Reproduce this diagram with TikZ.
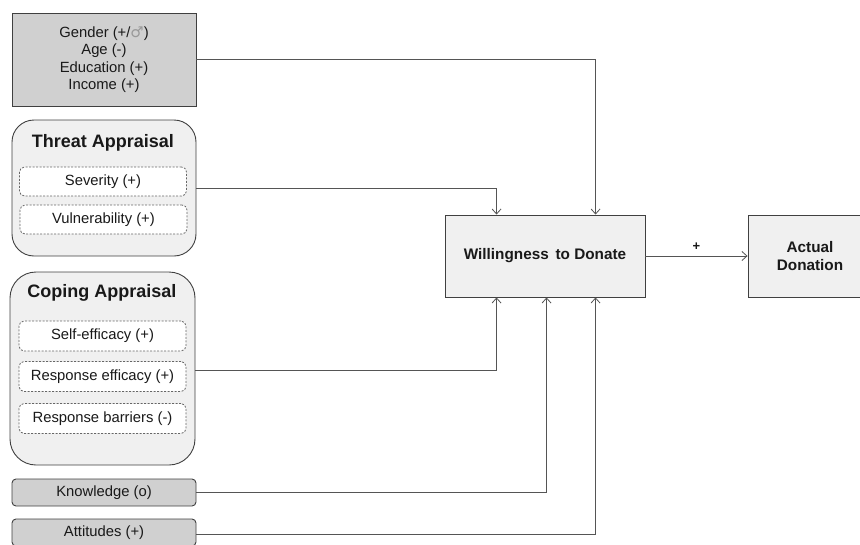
\documentclass[tikz,border=0pt]{standalone}
\usepackage{fontspec}
\setmainfont{Liberation Sans}
\newfontfamily\symfont{DejaVu Sans}
\usetikzlibrary{arrows.meta,calc}
\definecolor{linec}{HTML}{555555}
\definecolor{darkfill}{HTML}{D0D0D0}
\definecolor{lightfill}{HTML}{F0F0F0}
\begin{document}
\begin{tikzpicture}[x=1pt,y=-1pt,
  every node/.style={font=\fontsize{14.8}{17.5}\selectfont, text=black!90},
  box/.style={draw=black!75, line width=0.9pt, inner sep=0pt, align=center},
  grp/.style={box, rounded corners=22pt, fill=lightfill},
  sub/.style={draw=black!60, dash pattern=on 2pt off 1.5pt, rounded corners=5pt, line width=0.8pt, minimum width=167pt, minimum height=29pt, inner sep=0pt, fill=white},
  ttl/.style={font=\fontsize{18}{20}\selectfont\bfseries},
  arr/.style={draw=linec, line width=0.9pt, -{Straight Barb[length=5pt,width=9pt,line width=0.8pt]}}
]
\useasboundingbox (0,0) rectangle (860,544);
% left column
\node[box, fill=darkfill, minimum width=184pt, minimum height=93pt] (demo) at (104,59.5)
  {Gender (+/{\color{black!40}\symfont ♂})\\Age (-)\\Education (+)\\Income (+)};
\node[grp, minimum width=184pt, minimum height=136pt] (threat) at (104,188) {};
\node[ttl] (tt) at (103,143) {Threat Appraisal};
\node[sub] (sev) at (103,181.5) {Severity (+)};
\node[sub] (vul) at (103.5,219.5) {Vulnerability (+)};
\node[grp, rounded corners=26pt, minimum width=185pt, minimum height=193pt] (coping) at (102.5,368.5) {};
\node[ttl] (ct) at (102,293) {Coping Appraisal};
\node[sub, minimum height=30pt] (self) at (102.5,336) {Self-efficacy (+)};
\node[sub, minimum height=30pt] (reff) at (102.5,376.5) {Response efficacy (+)};
\node[sub, minimum height=30pt] (rbar) at (102.5,418.5) {Response barriers (-)};
\node[box, fill=darkfill, rounded corners=4pt, minimum width=184pt, minimum height=27pt] (know) at (104,492.5) {Knowledge (o)};
\node[box, fill=darkfill, rounded corners=4pt, minimum width=184pt, minimum height=27pt] (att) at (104,532.5) {Attitudes (+)};
% right
\node[box, fill=lightfill, minimum width=200pt, minimum height=82pt, font=\fontsize{15.3}{18}\selectfont\bfseries] (will) at (545,256) {Willingness\, to Donate};
\node[box, fill=lightfill, minimum width=124pt, minimum height=82pt, font=\fontsize{15.3}{18}\selectfont\bfseries] (act) at (810,256) {Actual\\Donation};
% connectors
\coordinate (wa) at ($(will.north west)+(52,0)$);
\coordinate (wb) at ($(will.north west)+(151,0)$);
\coordinate (wc) at ($(will.south west)+(52,0)$);
\coordinate (wd) at ($(will.south west)+(102,0)$);
\coordinate (we) at ($(will.south west)+(151,0)$);
\draw[arr] (demo.east) -| (wb);
\draw[arr] (threat.east) -| (wa);
\draw[arr] ($(coping.east)+(0,1.5)$) -| (wc);
\draw[arr] (know.east) -| (wd);
\draw[arr] ($(att.east)+(0,1.5)$) -| (we);
\draw[arr] (will.east) -- node[above=2pt, font=\fontsize{13}{15}\selectfont\bfseries] (plus) {+} (act.west);
\end{tikzpicture}
\end{document}
